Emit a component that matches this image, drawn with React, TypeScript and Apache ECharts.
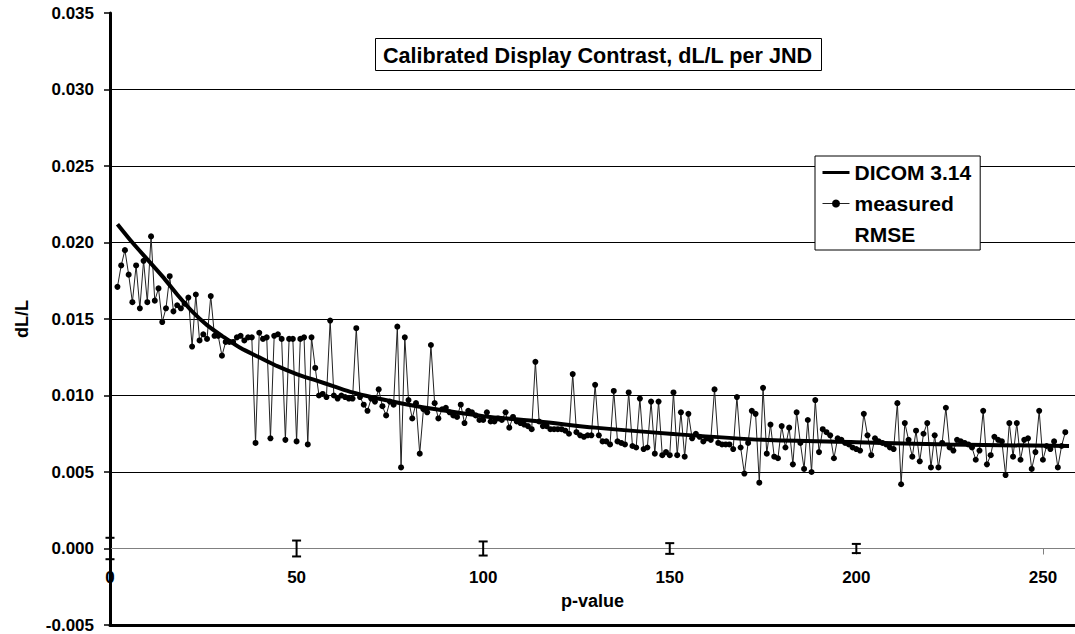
import React, { useEffect, useRef } from "react";
import * as echarts from "echarts";

// measured dL/L, one value per p-value starting at p = 2
const measuredStartP = 2;
const measuredValues = [
  0.0171, 0.0185, 0.0195, 0.0179, 0.0161, 0.0185, 0.0157, 0.0188, 0.0161, 0.0204,
  0.0162, 0.0170, 0.0148, 0.0157, 0.0178, 0.0155, 0.0159, 0.0157, 0.0160, 0.0164,
  0.0132, 0.0166, 0.0136, 0.0140, 0.0137, 0.0165, 0.0139, 0.0139, 0.0126, 0.0135,
  0.0135, 0.0135, 0.0138, 0.0139, 0.0136, 0.0138, 0.0138, 0.0069, 0.0141, 0.0137,
  0.0138, 0.0072, 0.0139, 0.0140, 0.0137, 0.0071, 0.0137, 0.0137, 0.0070, 0.0137,
  0.0138, 0.0068, 0.0138, 0.0118, 0.0100, 0.0101, 0.0099, 0.0149, 0.0100, 0.0098,
  0.0100, 0.0099, 0.0098, 0.0098, 0.0144, 0.0099, 0.0094, 0.0090, 0.0098, 0.0096,
  0.0104, 0.0093, 0.0087, 0.0096, 0.0094, 0.0145, 0.0053, 0.0138, 0.0097, 0.0085,
  0.0095, 0.0062, 0.0091, 0.0089, 0.0133, 0.0095, 0.0085, 0.0091, 0.0092, 0.0089,
  0.0087, 0.0086, 0.0094, 0.0082, 0.0090, 0.0089, 0.0087, 0.0084, 0.0084, 0.0089,
  0.0083, 0.0083, 0.0085, 0.0084, 0.0089, 0.0079, 0.0086, 0.0083, 0.0082, 0.0081,
  0.0080, 0.0078, 0.0122, 0.0083, 0.0080, 0.0080, 0.0078, 0.0078, 0.0078, 0.0078,
  0.0077, 0.0075, 0.0114, 0.0076, 0.0074, 0.0073, 0.0074, 0.0074, 0.0107, 0.0074,
  0.0070, 0.0070, 0.0068, 0.0103, 0.0070, 0.0069, 0.0068, 0.0102, 0.0067, 0.0066,
  0.0098, 0.0065, 0.0066, 0.0096, 0.0062, 0.0096, 0.0061, 0.0063, 0.0061, 0.0102,
  0.0061, 0.0089, 0.0060, 0.0088, 0.0072, 0.0075, 0.0073, 0.0070, 0.0072, 0.0071,
  0.0104, 0.0069, 0.0068, 0.0068, 0.0068, 0.0065, 0.0099, 0.0066, 0.0049, 0.0069,
  0.0090, 0.0088, 0.0043, 0.0105, 0.0062, 0.0081, 0.0060, 0.0059, 0.0080, 0.0066,
  0.0079, 0.0055, 0.0089, 0.0069, 0.0052, 0.0084, 0.0050, 0.0097, 0.0063, 0.0078,
  0.0076, 0.0074, 0.0059, 0.0072, 0.0071, 0.0069, 0.0068, 0.0066, 0.0065, 0.0064,
  0.0088, 0.0074, 0.0061, 0.0072, 0.0070, 0.0069, 0.0068, 0.0066, 0.0065, 0.0095,
  0.0042, 0.0082, 0.0071, 0.0060, 0.0077, 0.0057, 0.0075, 0.0082, 0.0053, 0.0074,
  0.0053, 0.0069, 0.0092, 0.0066, 0.0064, 0.0071, 0.0070, 0.0069, 0.0068, 0.0066,
  0.0058, 0.0064, 0.0090, 0.0055, 0.0061, 0.0073, 0.0071, 0.0070, 0.0048, 0.0082,
  0.0060, 0.0082, 0.0058, 0.0071, 0.0072, 0.0052, 0.0063, 0.0090, 0.0058, 0.0067,
  0.0065, 0.0070, 0.0053, 0.0067, 0.0076,
];

// DICOM 3.14 reference curve (read at selected p-values)
const dicomP = [2, 6, 10, 14, 18, 22, 26, 30, 35, 40, 45, 50, 55, 60, 65, 70, 80, 90, 100, 115, 130, 150, 175, 200, 225, 257];
const dicomV = [
  0.0212, 0.0200, 0.0189, 0.0178, 0.0166, 0.0155, 0.0146, 0.0139, 0.0131, 0.0125,
  0.0119, 0.0114, 0.0110, 0.0106, 0.0102, 0.0099, 0.0094, 0.0090, 0.00865, 0.0083,
  0.0079, 0.0075, 0.0071, 0.00695, 0.0068, 0.0067,
];

// RMSE error bars, centred on 0
const rmseP = [0, 50, 100, 150, 200];
const rmseV = [0.0007, 0.00052, 0.00046, 0.00035, 0.0003];

const FONT = 'Arial, "Liberation Sans", Helvetica, sans-serif';

const Y_MIN = -0.005;
const Y_MAX = 0.035;
const GRID_TOP = 13;
const GRID_BOTTOM = 9;
const CHART_H = 634;

export default function App() {
  const ref = useRef<HTMLDivElement>(null);

  useEffect(() => {
    if (!ref.current) return;
    const chart = echarts.init(ref.current, null, { renderer: "svg" });

    const measuredData = measuredValues.map((v, i) => [measuredStartP + i, v]);
    const dicomData = dicomP.map((p, i) => [p, dicomV[i]]);
    const rmseData = rmseP.map((p, i) => [p, 0, rmseV[i]]);

    // distance from the grid's bottom edge up to the y = 0 line
    const plotH = CHART_H - GRID_TOP - GRID_BOTTOM;
    const zeroOffset = (plotH * (0 - Y_MIN)) / (Y_MAX - Y_MIN);

    const bold = (size: number) => ({
      fontFamily: FONT,
      fontWeight: "bold" as const,
      fontSize: size,
      color: "#000",
    });

    chart.setOption({
      animation: false,
      backgroundColor: "#fff",
      title: {
        text: "Calibrated Display Contrast, dL/L per JND",
        left: 375,
        top: 38,
        padding: [6, 9, 5, 8],
        borderColor: "#000",
        borderWidth: 1,
        backgroundColor: "#fff",
        textStyle: { ...bold(21.6), lineHeight: 22 },
      },
      legend: {
        orient: "vertical",
        left: 815,
        top: 156,
        padding: [6, 9, 5, 6],
        itemGap: 10,
        itemWidth: 27,
        itemHeight: 10,
        backgroundColor: "#fff",
        borderColor: "#000",
        borderWidth: 1,
        selectedMode: false,
        textStyle: { ...bold(21), lineHeight: 21 },
        data: [
          { name: "DICOM 3.14", itemStyle: { opacity: 0 }, lineStyle: { width: 3, color: "#000" } },
          { name: "measured", lineStyle: { width: 1, color: "#222" } },
          { name: "RMSE", icon: "rect", itemStyle: { opacity: 0 } },
        ],
      },
      grid: {
        left: 110,
        top: GRID_TOP,
        right: 0,
        bottom: GRID_BOTTOM,
        containLabel: false,
        outerBoundsMode: "none",
      },
      xAxis: [
        {
          type: "value",
          min: 0,
          max: 258.6,
          interval: 50,
          position: "bottom",
          offset: -zeroOffset,
          name: "p-value",
          nameLocation: "middle",
          nameGap: 43,
          nameTextStyle: bold(18),
          axisLine: { show: true, onZero: false, lineStyle: { color: "#808080", width: 1 } },
          axisTick: { show: true, length: 6, lineStyle: { color: "#808080", width: 1 } },
          axisLabel: {
            ...bold(17),
            margin: 20,
            showMaxLabel: false,
            formatter: (v: number) => (Math.abs(v % 50) < 1e-6 ? String(Math.round(v)) : ""),
          },
          splitLine: { show: false },
          z: 5,
        },
        {
          type: "value",
          min: 0,
          max: 258.6,
          position: "bottom",
          offset: 0,
          axisLine: { show: true, onZero: false, lineStyle: { color: "#000", width: 3 } },
          axisTick: { show: false },
          axisLabel: { show: false },
          splitLine: { show: false },
        },
      ],
      yAxis: {
        type: "value",
        min: Y_MIN,
        max: Y_MAX,
        interval: 0.005,
        name: "dL/L",
        nameLocation: "middle",
        nameGap: 79,
        nameRotate: 90,
        nameTextStyle: bold(18),
        axisLine: { show: true, onZero: false, lineStyle: { color: "#000", width: 3 } },
        axisTick: { show: true, length: 6, lineStyle: { color: "#000", width: 1.5 } },
        axisLabel: {
          ...bold(17),
          margin: 16,
          formatter: (v: number) => v.toFixed(3),
        },
        splitLine: {
          show: true,
          showMinLine: false,
          showMaxLine: false,
          lineStyle: { color: "#000", width: 1 },
        },
      },
      series: [
        {
          name: "measured",
          type: "line",
          xAxisIndex: 0,
          data: measuredData,
          symbol: "circle",
          symbolSize: 6,
          showSymbol: true,
          itemStyle: { color: "#000" },
          lineStyle: { color: "#222", width: 1 },
          z: 3,
        },
        {
          name: "DICOM 3.14",
          type: "line",
          xAxisIndex: 0,
          data: dicomData,
          smooth: 0.3,
          showSymbol: false,
          symbol: "none",
          itemStyle: { color: "#000" },
          lineStyle: { color: "#000", width: 4 },
          z: 4,
        },
        {
          name: "RMSE",
          type: "custom",
          xAxisIndex: 0,
          data: rmseData,
          encode: { x: 0, y: 1 },
          itemStyle: { color: "rgba(0,0,0,0)" },
          z: 6,
          renderItem: (_params: any, api: any) => {
            const x = api.value(0);
            const c = api.value(1);
            const e = api.value(2);
            const top = api.coord([x, c + e]);
            const bot = api.coord([x, c - e]);
            const hw = 4.5;
            const st = { stroke: "#000", lineWidth: 2, fill: "none" };
            return {
              type: "group",
              children: [
                { type: "line", shape: { x1: top[0], y1: top[1], x2: bot[0], y2: bot[1] }, style: st },
                { type: "line", shape: { x1: top[0] - hw, y1: top[1], x2: top[0] + hw, y2: top[1] }, style: st },
                { type: "line", shape: { x1: bot[0] - hw, y1: bot[1], x2: bot[0] + hw, y2: bot[1] }, style: st },
              ],
            };
          },
        },
      ],
    });

    return () => chart.dispose();
  }, []);

  return (
    <div
      ref={ref}
      style={{ position: "fixed", left: 0, top: 0, width: 1075, height: 634, background: "#fff" }}
    />
  );
}
